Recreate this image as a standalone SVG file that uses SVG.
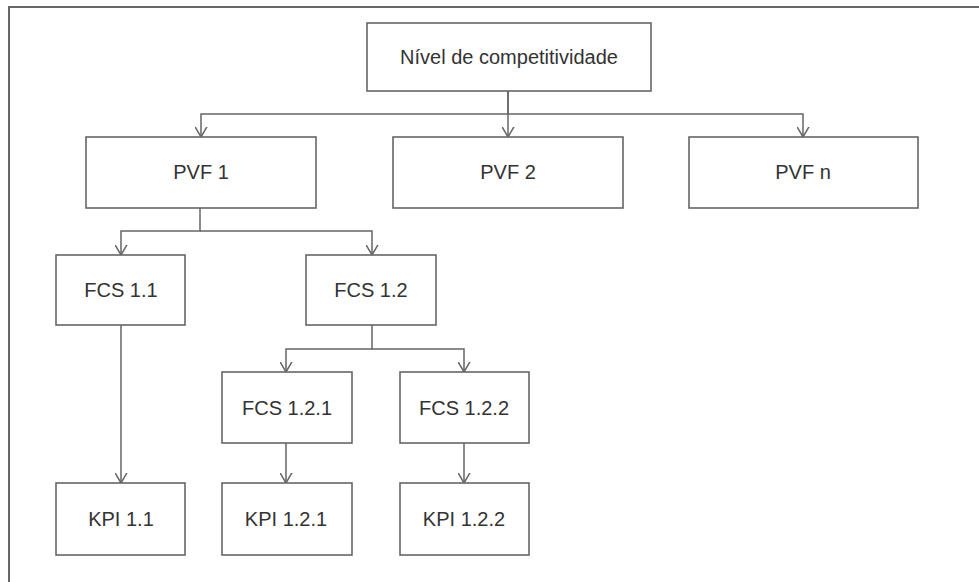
<svg xmlns="http://www.w3.org/2000/svg" width="979" height="582" viewBox="0 0 979 582">
<defs>
<style>
.box{fill:#fff;stroke:#666;stroke-width:1.6}
.lbl{font-family:"Liberation Sans",Arial,sans-serif;font-size:20px;fill:#333;text-anchor:middle}
.con{fill:none;stroke:#666;stroke-width:1.5}
</style>
<marker id="arr" markerUnits="userSpaceOnUse" markerWidth="20" markerHeight="20" viewBox="-10 -14 20 20" refX="0" refY="0" orient="auto">
<path d="M-12,-7 L0,0 L-12,7" fill="none" stroke="#666" stroke-width="1.5" transform="rotate(0)"/>
</marker>
</defs>
<rect x="0" y="0" width="979" height="582" fill="#fff"/>
<path d="M9,590 V7 H990" fill="none" stroke="#666" stroke-width="2"/>
<g id="connectors">
<path class="con" d="M508,91 V114 H201 V137" marker-end="url(#arr)"/>
<path class="con" d="M508,91 V137" marker-end="url(#arr)"/>
<path class="con" d="M508,114 H803 V137" marker-end="url(#arr)"/>
<path class="con" d="M200,208 V231 H121 V255" marker-end="url(#arr)"/>
<path class="con" d="M200,231 H372 V255" marker-end="url(#arr)"/>
<path class="con" d="M372,325 V349 H286 V372" marker-end="url(#arr)"/>
<path class="con" d="M372,349 H464 V372" marker-end="url(#arr)"/>
<path class="con" d="M121,325 V483" marker-end="url(#arr)"/>
<path class="con" d="M286,443 V483" marker-end="url(#arr)"/>
<path class="con" d="M464,443 V483" marker-end="url(#arr)"/>
</g>
<g id="n-nivel"><rect class="box" x="367" y="23" width="284" height="68"/><text class="lbl" x="509" y="64">Nível de competitividade</text></g>
<g id="n-pvf1"><rect class="box" x="86" y="137" width="230" height="71"/><text class="lbl" x="201" y="179">PVF 1</text></g>
<g id="n-pvf2"><rect class="box" x="393" y="137" width="230" height="71"/><text class="lbl" x="508" y="179">PVF 2</text></g>
<g id="n-pvfn"><rect class="box" x="689" y="137" width="229" height="71"/><text class="lbl" x="803" y="179">PVF n</text></g>
<g id="n-fcs11"><rect class="box" x="56" y="255" width="129" height="70"/><text class="lbl" x="121" y="297">FCS 1.1</text></g>
<g id="n-fcs12"><rect class="box" x="306" y="255" width="130" height="70"/><text class="lbl" x="371" y="297">FCS 1.2</text></g>
<g id="n-fcs121"><rect class="box" x="222" y="372" width="130" height="71"/><text class="lbl" x="287" y="415">FCS 1.2.1</text></g>
<g id="n-fcs122"><rect class="box" x="400" y="372" width="129" height="71"/><text class="lbl" x="464" y="415">FCS 1.2.2</text></g>
<g id="n-kpi11"><rect class="box" x="56" y="483" width="129" height="72"/><text class="lbl" x="121" y="526">KPI 1.1</text></g>
<g id="n-kpi121"><rect class="box" x="222" y="483" width="130" height="72"/><text class="lbl" x="286" y="526">KPI 1.2.1</text></g>
<g id="n-kpi122"><rect class="box" x="400" y="483" width="129" height="72"/><text class="lbl" x="464" y="526">KPI 1.2.2</text></g>
</svg>
